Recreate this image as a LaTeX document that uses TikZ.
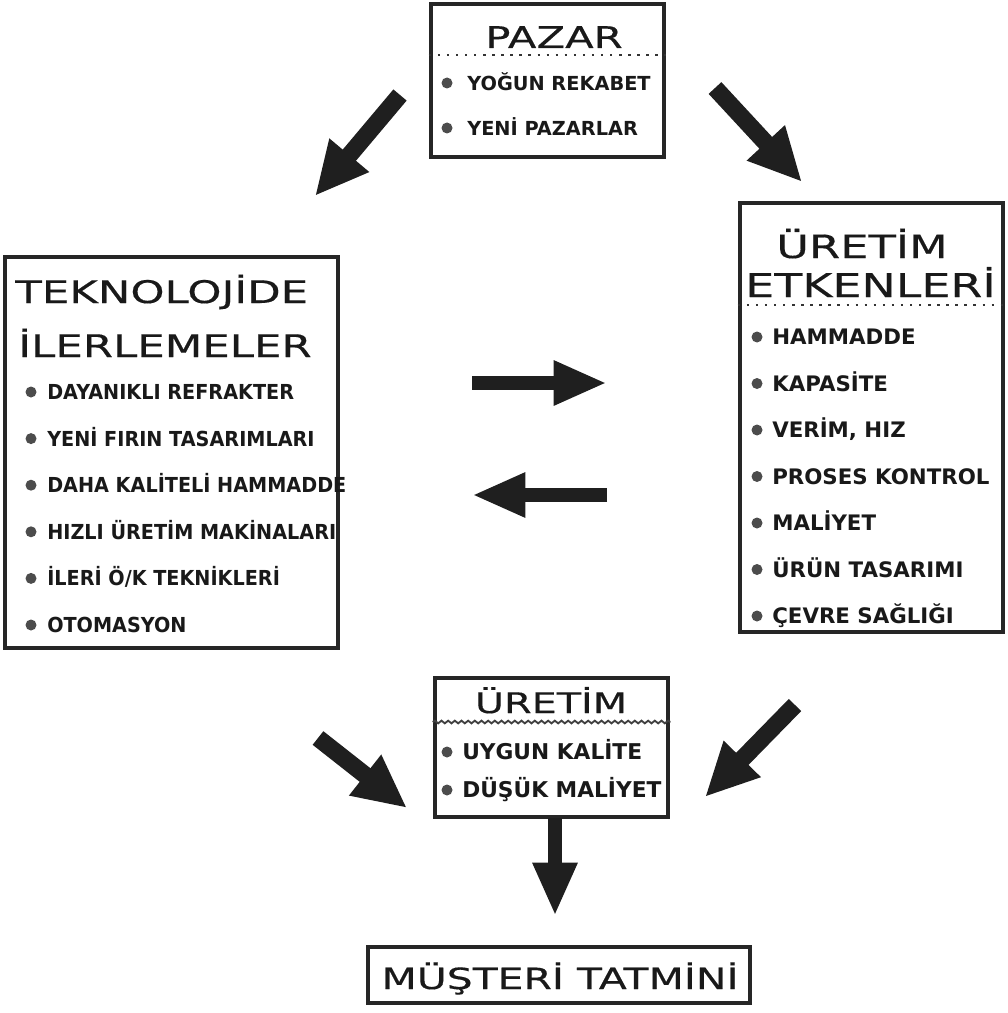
\documentclass[tikz,border=0pt]{standalone}
\usepackage{fontspec}
\setmainfont{DejaVu Sans}
\newfontfamily\ttlfont{DejaVu Sans}[FakeStretch=1.4,FakeBold=0.4]
\newfontfamily\itmnarrow{DejaVu Sans}[FakeStretch=0.93]
\usetikzlibrary{arrows.meta,fit,decorations.pathmorphing}
\tikzset{ttl/.style={font=\ttlfont\fontsize{#1}{#1}\selectfont, inner sep=0pt, text=black!90},
     itm/.style={anchor=west, inner sep=0pt, font=\bfseries\fontsize{#1}{18}\selectfont,
       text height=11.3pt, text depth=0pt, text=black!90},
     itm/.default=15.5}
\tikzstyle{box} = [draw=black!85, line width=3.4pt, inner sep=0pt]
\tikzstyle{bul} = [fill=black!70]
\tikzstyle{bigarrow} = [line width=11pt, draw=black!88, -{Triangle[length=40pt,width=31pt]}]
\tikzstyle{diagarrow} = [line width=13pt, draw=black!88, -{Triangle[length=40pt,width=36pt]}]
\tikzstyle{sep} = [line width=1.8pt, dash pattern=on 1.8pt off 5pt, black!80]

\begin{document}
\begin{tikzpicture}[x=0.75pt,y=-0.75pt]
\useasboundingbox (0,0) rectangle (1007,1013);

% boxes
\coordinate (pazarNW) at (431,4);    \coordinate (pazarSE) at (664,157);
\coordinate (teknoNW) at (5,257);    \coordinate (teknoSE) at (338,648);
\coordinate (etkenNW) at (740,203);  \coordinate (etkenSE) at (1003,632);
\coordinate (uretNW) at (435,678);   \coordinate (uretSE) at (668,817);
\coordinate (tatNW) at (368,947);    \coordinate (tatSE) at (750,1003);

\node (pazar) [box, fit=(pazarNW) (pazarSE)] {};
\node (tekno) [box, fit=(teknoNW) (teknoSE)] {};
\node (etken) [box, fit=(etkenNW) (etkenSE)] {};
\node (uret) [box, fit=(uretNW) (uretSE)] {};
\node (tatmin) [box, fit=(tatNW) (tatSE)] {};

% titles
\node (pazarT) [ttl=22.4, anchor=base] at (554,48) {PAZAR};
\node (teknoT1) [ttl=23.3, anchor=base west] at (15,303) {TEKNOLOJİDE};
\node (teknoT2) [ttl=23.3, anchor=base west] at (18,357) {İLERLEMELER};
\node (etkenT1) [ttl=24, anchor=base] at (862,258) {ÜRETİM};
\node (etkenT2) [ttl=24.6, anchor=base west] at (745,297) {ETKENLERİ};
\node (uretT) [ttl=21.3, anchor=base] at (551,713) {ÜRETİM};
\node (tatminT) at (560,989) [ttl=21.9, anchor=base] {MÜŞTERİ TATMİNİ};

% separators
\draw [sep] (pazar.west |- 0,55) -- (pazar.east |- 0,55);
\draw [sep] (etken.west |- 0,305) -- (etken.east |- 0,305);
\draw [black!75, line width=1.4pt, decorate, decoration={snake, amplitude=1pt, segment length=5pt}]
  (uret.west |- 0,722) -- (uret.east |- 0,722);

% items
\foreach \txt [count=\i] in {YOĞUN REKABET, YENİ PAZARLAR} {
  \node (pazar\i) [itm=14.5] at (467, 83+45*\i-45) {\txt};
  \fill [bul] (pazar\i.west) ++(-20,0) circle (5.5);
}
\foreach \txt [count=\i] in {DAYANIKLI REFRAKTER, YENİ FIRIN TASARIMLARI, DAHA KALİTELİ HAMMADDE,
    HIZLI ÜRETİM MAKİNALARI, İLERİ Ö/K TEKNİKLERİ, OTOMASYON} {
  \node (tekno\i) [itm, font=\itmnarrow\bfseries\fontsize{15.5}{18}\selectfont] at (47, 392+46.6*\i-46.6) {\txt};
  \fill [bul] (tekno\i.west) ++(-16,0) circle (5.5);
}
\foreach \txt [count=\i] in {HAMMADDE, KAPASİTE, {VERİM, HIZ}, PROSES KONTROL, MALİYET,
    ÜRÜN TASARIMI, ÇEVRE SAĞLIĞI} {
  \node (etken\i) [itm=16] at (772, 337+46.5*\i-46.5) {\txt};
  \fill [bul] (etken\i.west) ++(-15,0) circle (5.5);
}
\foreach \txt [count=\i] in {UYGUN KALİTE, DÜŞÜK MALİYET} {
  \node (uret\i) [itm=16.3] at (462, 752+38*\i-38) {\txt};
  \fill [bul] (uret\i.west) ++(-15,0) circle (5.5);
}

% arrows
\coordinate (a1s) at (400,95);  \coordinate (a1e) at (315,196);
\coordinate (a2s) at (715,88);  \coordinate (a2e) at (802,182);
\coordinate (a3s) at (472,383); \coordinate (a3e) at (607,383);
\coordinate (a4s) at (607,495); \coordinate (a4e) at (472,495);
\coordinate (a5s) at (318,738); \coordinate (a5e) at (407,808);
\coordinate (a6s) at (795,705); \coordinate (a6e) at (705,797);
\coordinate (a7s) at (555,818); \coordinate (a7e) at (555,916);
\foreach \k in {1,2,5,6} {
  \draw [diagarrow] (a\k s) -- (a\k e);
}
\foreach \k in {3,4,7} {
  \draw [bigarrow] (a\k s) -- (a\k e);
}
\end{tikzpicture}
\end{document}
